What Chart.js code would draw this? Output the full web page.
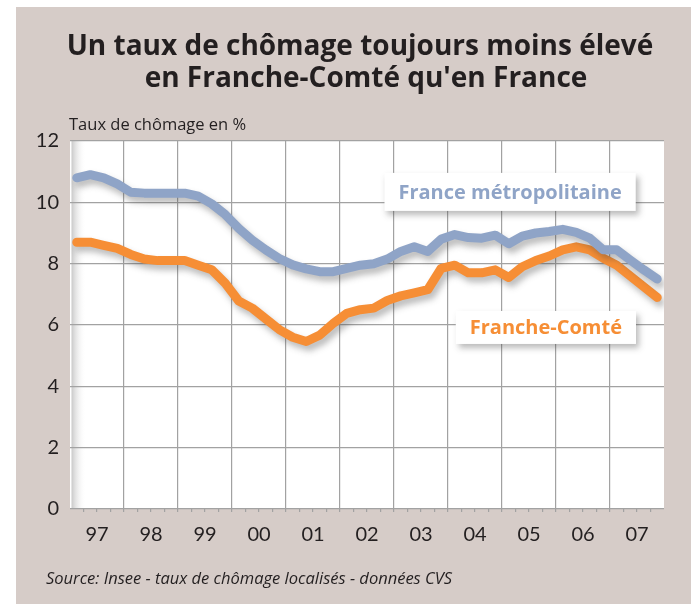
<!DOCTYPE html>
<html>
<head>
<meta charset="utf-8">
<script src="https://cdn.jsdelivr.net/npm/chart.js@4/dist/chart.umd.min.js"></script>
<style>
html,body{margin:0;padding:0;background:#ffffff;}
#wrap{position:relative;width:691px;height:607px;}
canvas{display:block;}
</style>
</head>
<body>
<div id="wrap"><canvas id="c" width="691" height="607"></canvas></div>
<script>
// ---- data ----
const years = ['97','98','99','00','01','02','03','04','05','06','07'];
const seriesNames = ['France métropolitaine', 'Franche-Comté'];
const franceValues = [10.8,10.9,10.8,10.6, 10.33,10.3,10.3,10.3, 10.3,10.2,9.95,9.6,
  9.15,8.77,8.45,8.17, 7.96,7.83,7.74,7.74, 7.85,7.95,8.0,8.15,
  8.4,8.55,8.4,8.8, 8.95,8.85,8.83,8.93, 8.65,8.9,9.0,9.05,
  9.12,9.02,8.83,8.45, 8.45,8.12,7.8,7.5];
const fcValues = [8.7,8.7,8.6,8.5, 8.3,8.15,8.1,8.1, 8.1,7.95,7.8,7.36,
  6.78,6.55,6.2,5.85, 5.6,5.46,5.67,6.05, 6.38,6.5,6.55,6.8,
  6.95,7.05,7.15,7.85, 7.95,7.7,7.7,7.8, 7.55,7.9,8.1,8.25,
  8.45,8.55,8.45,8.18, 7.95,7.6,7.25,6.9];
const yTicks = [0,2,4,6,8,10,12];
const titleLines = ["Un taux de chômage toujours moins élevé", "en Franche-Comté qu'en France"];
const yAxisTitle = "Taux de chômage en %";
const sourceText = "Source: Insee - taux de chômage localisés - données CVS";

const BLUE = '#8fa4c7';
const ORANGE = '#f68e35';
const BG = '#d6ccc8';
const GRID = '#a2a2a2';
const TXT = '#231f20';

const toPts = arr => arr.map((v, i) => ({x: i + 0.5, y: v}));
const nQ = years.length * 4;

const decor = {
  id: 'decor',
  beforeDraw(chart) {
    const c = chart.ctx, a = chart.chartArea;
    c.save();
    c.fillStyle = '#ffffff';
    c.fillRect(0, 0, chart.width, chart.height);
    c.fillStyle = BG;
    c.fillRect(16, 7, chart.width - 16, 597);
    // plot area
    c.fillStyle = '#ffffff';
    c.fillRect(a.left, a.top, a.right - a.left, a.bottom - a.top);
    const g = c.createLinearGradient(a.left + 1, 0, a.left + 16, 0);
    g.addColorStop(0, 'rgba(150,150,150,0.55)');
    g.addColorStop(1, 'rgba(255,255,255,0)');
    c.fillStyle = g;
    c.fillRect(a.left + 1.5, a.top, 15, a.bottom - a.top);
    // titles
    c.fillStyle = TXT;
    c.textAlign = 'center';
    c.textBaseline = 'alphabetic';
    c.font = 'bold 28px "Open Sans"';
    c.fillText(titleLines[0], 360, 55);
    c.fillText(titleLines[1], 366, 87);
    c.textAlign = 'left';
    c.font = '16.5px "Open Sans"';
    c.fillText(yAxisTitle, 69, 130);
    c.font = 'italic 16.5px "Open Sans"';
    c.fillText(sourceText, 46, 584);
    c.restore();
  },
  beforeDatasetDraw(chart) {
    const c = chart.ctx;
    c.save();
    c.shadowColor = 'rgba(60,60,60,0.35)';
    c.shadowBlur = 6;
    c.shadowOffsetX = 3;
    c.shadowOffsetY = 5;
  },
  afterDatasetDraw(chart) {
    chart.ctx.restore();
  },
  afterDatasetsDraw(chart) {
    const c = chart.ctx, xs = chart.scales.x, ys = chart.scales.y;
    const labels = [
      {text: seriesNames[0], color: BLUE, x: 32.6, y: 10.34, h: 38},
      {text: seriesNames[1], color: ORANGE, x: 35.25, y: 5.92, h: 33}
    ];
    c.save();
    c.font = 'bold 20px "Open Sans"';
    labels.forEach(l => {
      const cx = xs.getPixelForValue(l.x), cy = ys.getPixelForValue(l.y);
      const w = c.measureText(l.text).width + 28;
      c.save();
      c.shadowColor = 'rgba(60,60,60,0.35)';
      c.shadowBlur = 6;
      c.shadowOffsetX = 3;
      c.shadowOffsetY = 4;
      c.fillStyle = '#ffffff';
      c.fillRect(cx - w / 2, cy - l.h / 2, w, l.h);
      c.restore();
      c.fillStyle = l.color;
      c.textAlign = 'center';
      c.textBaseline = 'middle';
      c.fillText(l.text, cx, cy + 1);
    });
    c.restore();
  }
};

new Chart(document.getElementById('c'), {
  type: 'line',
  data: {
    datasets: [
      {label: seriesNames[0], data: toPts(franceValues), borderColor: BLUE, borderWidth: 9,
       pointRadius: 0, tension: 0, borderJoinStyle: 'round', borderCapStyle: 'round', fill: false},
      {label: seriesNames[1], data: toPts(fcValues), borderColor: ORANGE, borderWidth: 9,
       pointRadius: 0, tension: 0, borderJoinStyle: 'round', borderCapStyle: 'round', fill: false}
    ]
  },
  options: {
    responsive: false,
    animation: false,
    events: [],
    layout: {padding: {top: 141, right: 27, left: 0, bottom: 0}},
    plugins: {legend: {display: false}, title: {display: false}, tooltip: {enabled: false}},
    scales: {
      x: {
        type: 'linear', min: 0, max: nQ,
        afterBuildTicks: s => { s.ticks = Array.from({length: nQ + 1}, (_, i) => ({value: i})); },
        afterFit: s => { s.height = 98; },
        border: {display: false},
        grid: {
          color: ctx => (ctx.tick && ctx.tick.value % 4 === 0 && ctx.tick.value > 0 && ctx.tick.value < nQ) ? GRID : 'rgba(0,0,0,0)',
          tickColor: ctx => (ctx.tick && ctx.tick.value > 0 && ctx.tick.value < nQ) ? GRID : 'rgba(0,0,0,0)',
          lineWidth: 1.2, drawTicks: true, tickLength: 3
        },
        ticks: {
          autoSkip: false, maxRotation: 0, padding: 11,
          color: TXT, font: {family: 'Lato', size: 20},
          callback: v => (v % 4 === 2 ? years[(v - 2) / 4] : '')
        }
      },
      y: {
        min: 0, max: 12,
        afterBuildTicks: s => { s.ticks = yTicks.map(v => ({value: v})); },
        afterFit: s => { s.width = 70; },
        border: {display: false},
        grid: {color: GRID, lineWidth: 1.2, drawTicks: false},
        ticks: {padding: 11, color: TXT, font: {family: 'Lato', size: 20}}
      }
    }
  },
  plugins: [decor]
});
</script>
</body>
</html>
